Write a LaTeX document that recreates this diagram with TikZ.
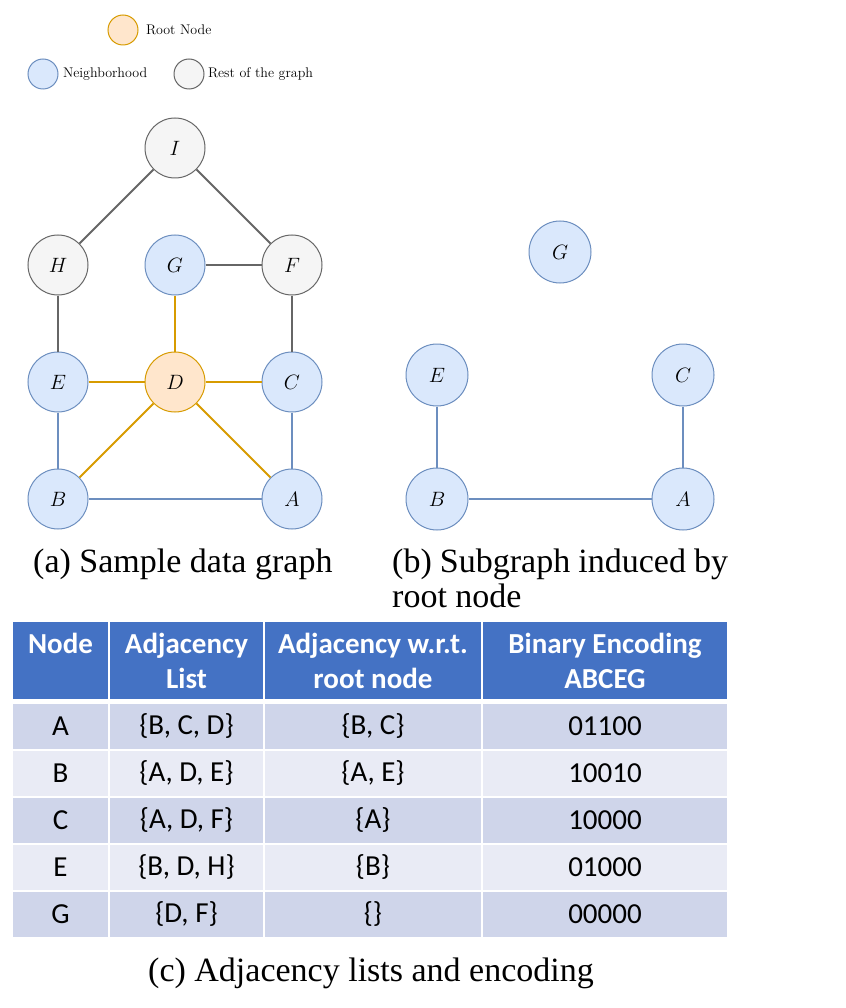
\documentclass[tikz,border=0pt]{standalone}
\usepackage{fontspec}
\usepackage{xcolor}
\usepackage{tikz}
\usetikzlibrary{positioning}

\newfontfamily\capfont{Liberation Serif}
\newfontfamily\tabfont{Carlito}

\definecolor{nbrfill}{HTML}{DAE8FC}
\definecolor{nbrline}{HTML}{6C8EBF}
\definecolor{rootfill}{HTML}{FFE6CC}
\definecolor{rootline}{HTML}{D79B00}
\definecolor{restfill}{HTML}{F5F5F5}
\definecolor{restline}{HTML}{666666}
\definecolor{hdrblue}{HTML}{4472C4}
\definecolor{rowdark}{HTML}{CFD5EA}
\definecolor{rowlight}{HTML}{E9EBF5}

\begin{document}
\begin{tikzpicture}[x=1pt, y=-1pt,
  nbr/.style={circle, draw=nbrline, fill=nbrfill, line width=1pt, minimum size=60pt, inner sep=0pt, font=\fontsize{21}{21}\selectfont},
  root/.style={nbr, draw=rootline, fill=rootfill},
  rest/.style={nbr, draw=restline, fill=restfill},
  legend/.style={minimum size=30pt},
  legtext/.style={font=\fontsize{14}{14}\selectfont},
  grayedge/.style={draw=restline, line width=2pt},
  rootedge/.style={draw=rootline, line width=2pt},
  nbredge/.style={draw=nbrline, line width=2pt},
  caption/.style={inner sep=0pt, font=\capfont\fontsize{34}{35}\selectfont},
  cell/.style={inner sep=0pt, minimum height=45pt, align=center, font=\tabfont\fontsize{29}{35}\selectfont},
  hdr/.style={cell, fill=hdrblue, text=white, minimum height=77pt, font=\tabfont\bfseries\fontsize{29}{35}\selectfont},
  darkrow/.style={cell, fill=rowdark},
  lightrow/.style={cell, fill=rowlight}
]
  \useasboundingbox (0,0) rectangle (845,1008);

  % legend
  \node[root, legend] (rootleg) at (123,30) {};
  \node[legtext, right=4pt of rootleg] (roottxt) {Root Node};
  \node[nbr, legend] (nbrleg) at (43,74) {};
  \node[legtext, right=1pt of nbrleg] (nbrtxt) {Neighborhood};
  \node[rest, legend] (restleg) at (189,74) {};
  \node[legtext, right=0pt of restleg] (resttxt) {Rest of the graph};

  % (a) sample data graph
  \node[rest] (I) at (175,148) {$I$};
  \node[rest] (H) at (58,265) {$H$};
  \node[nbr] (G) at (175,265) {$G$};
  \node[rest] (F) at (292,265) {$F$};
  \node[nbr] (E) at (58,382) {$E$};
  \node[root] (D) at (175,382) {$D$};
  \node[nbr] (C) at (292,382) {$C$};
  \node[nbr] (B) at (58,499) {$B$};
  \node[nbr] (A) at (292,499) {$A$};

  \draw[grayedge] (I) -- (H);
  \draw[grayedge] (I) -- (F);
  \draw[grayedge] (G) -- (F);
  \draw[grayedge] (H) -- (E);
  \draw[grayedge] (F) -- (C);
  \draw[rootedge] (G) -- (D);
  \draw[rootedge] (E) -- (D);
  \draw[rootedge] (D) -- (C);
  \draw[rootedge] (D) -- (B);
  \draw[rootedge] (D) -- (A);
  \draw[nbredge] (E) -- (B);
  \draw[nbredge] (C) -- (A);
  \draw[nbredge] (B) -- (A);

  % (b) induced subgraph
  \node[nbr, minimum size=62pt] (G2) at (560,252) {$G$};
  \node[nbr, minimum size=62pt] (E2) at (437,375) {$E$};
  \node[nbr, minimum size=62pt] (C2) at (683,375) {$C$};
  \node[nbr, minimum size=62pt] (B2) at (437,499) {$B$};
  \node[nbr, minimum size=62pt] (A2) at (683,499) {$A$};

  \draw[nbredge] (E2) -- (B2);
  \draw[nbredge] (C2) -- (A2);
  \draw[nbredge] (B2) -- (A2);

  \node[caption, anchor=base west] (capa) at (33,572) {(a) Sample data graph};
  \node[caption, anchor=base west] (capb) at (392,572) {\makebox[336pt][s]{(b) Subgraph induced by}};
  \node[caption, anchor=base west] (capb2) at (392,607) {root node};

  % (c) table
  \node[hdr, minimum width=95pt] (h1) at (60.5,660.5) {Node\\\mbox{}};
  \node[hdr, minimum width=153pt] (h2) at (186.5,660.5) {Adjacency\\List};
  \node[hdr, minimum width=216pt] (h3) at (373,660.5) {Adjacency w.r.t.\\root node};
  \node[hdr, minimum width=244pt] (h4) at (605,660.5) {Binary Encoding\\ABCEG};

  \node[darkrow, minimum width=95pt] (a1) at (60.5,726) {A};
  \node[darkrow, minimum width=153pt] (a2) at (186.5,726) {\{B, C, D\}};
  \node[darkrow, minimum width=216pt] (a3) at (373,726) {\{B, C\}};
  \node[darkrow, minimum width=244pt] (a4) at (605,726) {01100};

  \node[lightrow, minimum width=95pt] (b1) at (60.5,773) {B};
  \node[lightrow, minimum width=153pt] (b2) at (186.5,773) {\{A, D, E\}};
  \node[lightrow, minimum width=216pt] (b3) at (373,773) {\{A, E\}};
  \node[lightrow, minimum width=244pt] (b4) at (605,773) {10010};

  \node[darkrow, minimum width=95pt] (c1) at (60.5,820) {C};
  \node[darkrow, minimum width=153pt] (c2) at (186.5,820) {\{A, D, F\}};
  \node[darkrow, minimum width=216pt] (c3) at (373,820) {\{A\}};
  \node[darkrow, minimum width=244pt] (c4) at (605,820) {10000};

  \node[lightrow, minimum width=95pt] (e1) at (60.5,867) {E};
  \node[lightrow, minimum width=153pt] (e2) at (186.5,867) {\{B, D, H\}};
  \node[lightrow, minimum width=216pt] (e3) at (373,867) {\{B\}};
  \node[lightrow, minimum width=244pt] (e4) at (605,867) {01000};

  \node[darkrow, minimum width=95pt] (g1) at (60.5,914) {G};
  \node[darkrow, minimum width=153pt] (g2) at (186.5,914) {\{D, F\}};
  \node[darkrow, minimum width=216pt] (g3) at (373,914) {\{\}};
  \node[darkrow, minimum width=244pt] (g4) at (605,914) {00000};

  \node[caption] (capc) at (371,973) {(c) Adjacency lists and encoding};
\end{tikzpicture}
\end{document}
